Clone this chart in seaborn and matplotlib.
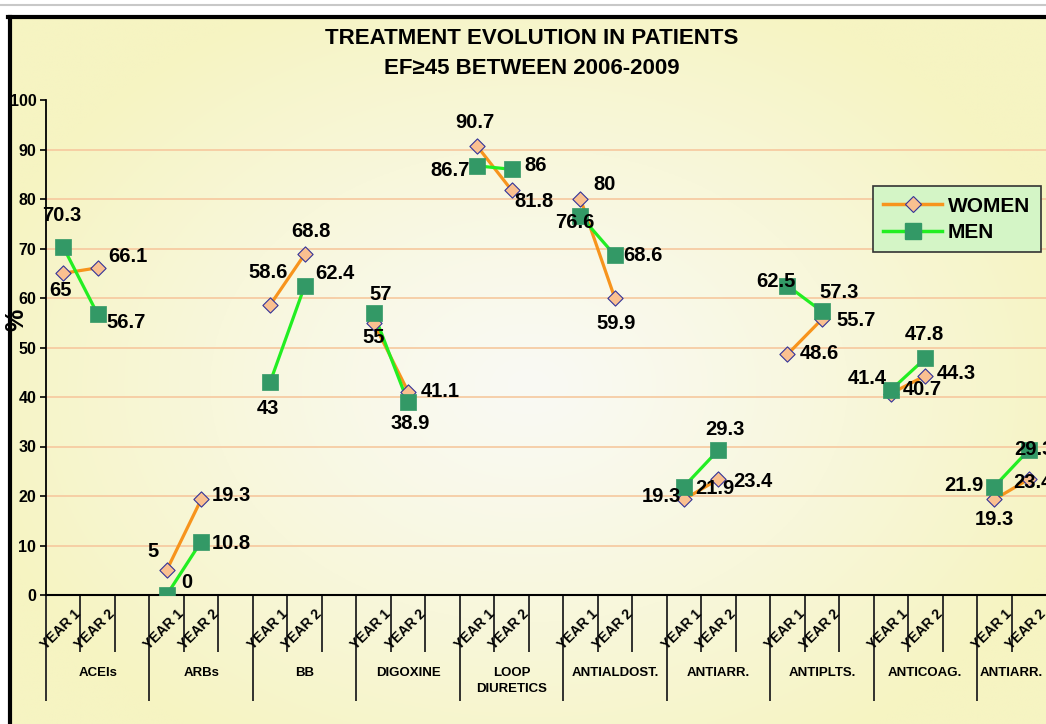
import numpy as np
import pandas as pd
import matplotlib
matplotlib.use("Agg")
import matplotlib.pyplot as plt
from matplotlib.lines import Line2D
import seaborn as sns

# data
groups = ["ACEIs", "ARBs", "BB", "DIGOXINE", "LOOP\nDIURETICS", "ANTIALDOST.",
          "ANTIARR.", "ANTIPLTS.", "ANTICOAG.", "ANTIARR."]
years = ["YEAR 1", "YEAR 2"]
women_y1 = [65, 5, 58.6, 55, 90.7, 80, 19.3, 48.6, 40.7, 19.3]
women_y2 = [66.1, 19.3, 68.8, 41.1, 81.8, 59.9, 23.4, 55.7, 44.3, 23.4]
men_y1 = [70.3, 0, 43, 57, 86.7, 76.6, 21.9, 62.5, 41.4, 21.9]
men_y2 = [56.7, 10.8, 62.4, 38.9, 86, 68.6, 29.3, 57.3, 47.8, 29.3]

# label offsets in pixels (dx, dy) for each point, per series: [group][year]
women_off = [[(-3, -17), (30, 11)], [(-14, 19), (30, 4)], [(-2, 32), (6, 23)],
             [(0, -15), (32, 0)], [(-2, 24), (22, -11)], [(24, 14), (1, -25)],
             [(-23, 3), (34, -2)], [(32, 1), (34, -1)], [(31, 4), (31, 2)],
             [(0, -20), (4, -3)]]
men_off = [[(-1, 32), (28, -8)], [(20, 12), (30, -2)], [(-2, -26), (30, 13)],
           [(7, 18), (2, -21)], [(-27, -5), (24, 4)], [(-6, -7), (28, 0)],
           [(31, -2), (7, 20)], [(-11, 4), (17, 19)], [(-24, 12), (-1, 24)],
           [(-30, 1), (5, 0)]]

rows = []
for g, name in enumerate(groups):
    for k, (w, m) in enumerate([(women_y1[g], men_y1[g]), (women_y2[g], men_y2[g])]):
        rows.append(dict(group=g, x=3 * g + 0.5 + k, sex="WOMEN", value=w, off=women_off[g][k]))
        rows.append(dict(group=g, x=3 * g + 0.5 + k, sex="MEN", value=m, off=men_off[g][k]))
df = pd.DataFrame(rows)

ORANGE = "#F7941D"
GREEN = "#22EE22"
PEACH = "#FAC090"
NAVY = "#333399"
DKGREEN = "#339966"

plt.rcParams["font.family"] = ["Liberation Sans", "DejaVu Sans"]
W, H = 1046, 724
fig = plt.figure(figsize=(W / 100, H / 100), dpi=100, facecolor="white")

# gradient background
bg = fig.add_axes([12 / W, 0, 1 - 12 / W, 1 - 19 / H], zorder=-10)
yy, xx = np.mgrid[0:1:300j, 0:1:400j]
r = np.sqrt(((xx - 0.5) / 0.55) ** 2 + ((yy - 0.52) / 0.6) ** 2)
t = np.clip(r, 0, 1) ** 1.2
edge = np.array([246, 244, 194]) / 255
center = np.array([250, 250, 244]) / 255
img = center[None, None, :] + (edge - center)[None, None, :] * t[..., None]
bg.imshow(img, aspect="auto", extent=[0, 1, 0, 1], origin="upper")
bg.axis("off")

# frame lines
fig.add_artist(Line2D([0, 1], [1 - 4.5 / H, 1 - 4.5 / H], color="#c8c8c8", lw=1.5))
fig.add_artist(Line2D([10 / W, 10 / W], [0, 1 - 16.5 / H], color="black", lw=3))
fig.add_artist(Line2D([8 / W, 1], [1 - 16.5 / H, 1 - 16.5 / H], color="black", lw=3))

ax = fig.add_axes([46 / W, 129 / H, 1000 / W, 495 / H])
ax.set_facecolor("none")

sns.lineplot(data=df, x="x", y="value", hue="sex", units="group", estimator=None,
             palette={"WOMEN": ORANGE, "MEN": GREEN}, lw=2.3, sort=False,
             legend=False, ax=ax, zorder=2)
sns.scatterplot(data=df[df.sex == "WOMEN"], x="x", y="value", marker="D", s=60,
                color=PEACH, edgecolor=NAVY, linewidth=0.8, ax=ax, zorder=3)
sns.scatterplot(data=df[df.sex == "MEN"], x="x", y="value", marker="s", s=120,
                color=DKGREEN, edgecolor=DKGREEN, linewidth=0.5, ax=ax, zorder=4)

for _, row in df.iterrows():
    ax.annotate(f"{row.value:g}", (row.x, row.value), xytext=row.off,
                textcoords="offset pixels", ha="center", va="center",
                fontsize=14.5, fontweight="bold", zorder=5, annotation_clip=False)

xmax = 29
ax.set_xlim(0, xmax)
ax.set_ylim(0, 100)
ax.set_yticks(range(0, 101, 10))
ax.yaxis.grid(True, color="#F6C89E", lw=1.2)
ax.get_ygridlines()[-1].set_visible(False)
ax.set_axisbelow(True)
for s in ["top", "right"]:
    ax.spines[s].set_visible(False)
ax.spines["left"].set_linewidth(1.3)
ax.spines["bottom"].set_linewidth(1.5)
ax.tick_params(axis="y", length=4, width=1.2, pad=3, labelsize=11.5)
for lab in ax.get_yticklabels():
    lab.set_fontweight("bold")
ax.set_xlabel("")
ax.set_ylabel("%", fontsize=18, fontweight="bold")
ax.yaxis.set_label_coords(-0.018, 0.556)

# hierarchical category axis
ax.set_xticks([3 * g for g in range(10)])
ax.set_xticks([3 * g + k for g in range(10) for k in (1, 2) if 3 * g + k < xmax], minor=True)
ax.tick_params(axis="x", which="major", length=76, width=1.3, color="#222222", labelbottom=False)
ax.tick_params(axis="x", which="minor", length=41, width=1.3, color="#222222")
for g in range(10):
    for k, yr in enumerate(years):
        ax.annotate(yr, (3 * g + 1 + k, 0), xycoords=("data", "axes fraction"),
                    xytext=(-2, -17), textcoords="offset pixels", rotation=45,
                    rotation_mode="anchor", ha="right", va="center",
                    fontsize=10, fontweight="bold", annotation_clip=False)
    cx = min(3 * g + 1.5, (3 * g + xmax) / 2)
    ax.annotate(groups[g], (cx, 0), xycoords=("data", "axes fraction"),
                xytext=(0, -72), textcoords="offset pixels", ha="center", va="top",
                fontsize=9.5, fontweight="bold", linespacing=1.45, annotation_clip=False)

handles = [Line2D([], [], color=ORANGE, lw=2.5, marker="D", ms=8, mfc=PEACH, mec=NAVY, mew=0.8),
           Line2D([], [], color=GREEN, lw=2.5, marker="s", ms=11, mfc=DKGREEN, mec=DKGREEN)]
leg = ax.legend(handles, ["WOMEN", "MEN"], loc="upper left", bbox_to_anchor=(0.827, 0.826),
                borderaxespad=0, fancybox=False, framealpha=1, facecolor="#D4F5C6",
                edgecolor="#333333", prop={"weight": "bold", "size": 15},
                handlelength=2.8, borderpad=0.5, labelspacing=0.35, handletextpad=0.3)
leg.get_frame().set_linewidth(1.2)

fig.text(0.508, 1 - 38 / H, "TREATMENT EVOLUTION IN PATIENTS", ha="center", va="center",
         fontsize=16, fontweight="bold")
fig.text(0.508, 1 - 68 / H, "EF\u226545 BETWEEN 2006-2009", ha="center", va="center",
         fontsize=16, fontweight="bold")

fig.savefig("out.png", dpi=100, facecolor="white")
